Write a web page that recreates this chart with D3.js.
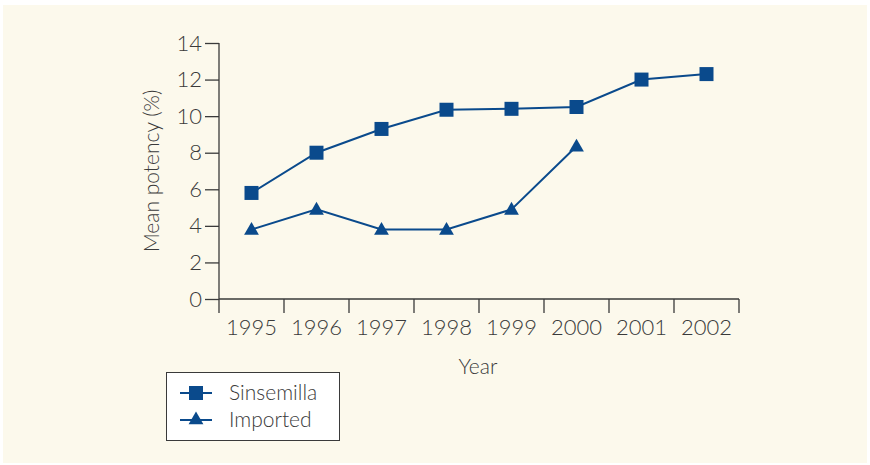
<!DOCTYPE html>
<html>
<head>
<meta charset="utf-8">
<script src="https://cdn.jsdelivr.net/npm/d3@7"></script>
<style>
  html, body { margin: 0; padding: 0; background: #ffffff; }
  svg { display: block; }
  text { font-family: Lato, "Open Sans", sans-serif; font-weight: 300; fill: #3a3a3a; }
</style>
</head>
<body>
<svg id="chart" width="870" height="465"></svg>
<script>
// Mean potency of cannabis samples by year
const years = ["1995", "1996", "1997", "1998", "1999", "2000", "2001", "2002"];
const sinsemilla = [5.8, 8.0, 9.3, 10.35, 10.4, 10.5, 12.0, 12.3];
const imported = [3.8, 4.9, 3.8, 3.8, 4.9, 8.35, null, null];
const yTicks = [0, 2, 4, 6, 8, 10, 12, 14];
const seriesNames = ["Sinsemilla", "Imported"];

const blue = "#0a4a8c";
const axisColor = "#3a3a3a";

const svg = d3.select("#chart");

// panel background
svg.append("rect")
  .attr("x", 3).attr("y", 5)
  .attr("width", 864).attr("height", 458)
  .attr("fill", "#fcf9ec");

const plotLeft = 219, plotRight = 739, plotTop = 43, plotBottom = 299;

const x = d3.scaleBand().domain(years).range([plotLeft, plotRight]);
const y = d3.scaleLinear().domain([0, 14]).range([plotBottom, plotTop]);

// y axis
const yAxis = svg.append("g")
  .attr("transform", `translate(${plotLeft},0)`)
  .call(d3.axisLeft(y).tickValues(yTicks).tickSize(14).tickPadding(3).tickSizeOuter(0));
yAxis.select(".domain").remove();
yAxis.append("line")
  .attr("x1", 0).attr("x2", 0)
  .attr("y1", plotTop).attr("y2", plotBottom + 14)
  .attr("stroke", axisColor).attr("stroke-width", 1.3);
yAxis.selectAll(".tick line").attr("stroke", axisColor).attr("stroke-width", 1.3);
yAxis.selectAll(".tick text")
  .attr("font-size", 22).attr("fill", "#3a3a3a")
  .style("font-family", "Lato, sans-serif").style("font-weight", 300);

// x axis: ticks at the band boundaries, labels under each band
svg.append("line")
  .attr("x1", plotLeft).attr("x2", plotRight)
  .attr("y1", plotBottom).attr("y2", plotBottom)
  .attr("stroke", axisColor).attr("stroke-width", 1.3);
svg.append("g").selectAll("line")
  .data(years)
  .join("line")
  .attr("x1", d => x(d) + x.bandwidth()).attr("x2", d => x(d) + x.bandwidth())
  .attr("y1", plotBottom).attr("y2", plotBottom + 14)
  .attr("stroke", axisColor).attr("stroke-width", 1.3);
svg.append("g").selectAll("text")
  .data(years)
  .join("text")
  .attr("x", d => x(d) + x.bandwidth() / 2)
  .attr("y", plotBottom + 36)
  .attr("text-anchor", "middle")
  .attr("font-size", 22)
  .text(d => d);

// axis titles
svg.append("text")
  .attr("x", 478).attr("y", 374)
  .attr("text-anchor", "middle")
  .attr("font-size", 21)
  .text("Year");
svg.append("text")
  .attr("transform", `translate(159,171) rotate(-90)`)
  .attr("text-anchor", "middle")
  .attr("font-size", 21)
  .text("Mean potency (%)");

const cx = d => x(d) + x.bandwidth() / 2;
const line = d3.line()
  .defined(d => d.v !== null)
  .x(d => cx(d.year))
  .y(d => y(d.v));

const sData = years.map((yr, i) => ({ year: yr, v: sinsemilla[i] }));
const iData = years.map((yr, i) => ({ year: yr, v: imported[i] })).filter(d => d.v !== null);

const triangle = d3.symbol().type(d3.symbolTriangle).size(95);

function drawSeries(data, shape) {
  svg.append("path")
    .datum(data)
    .attr("d", line)
    .attr("fill", "none")
    .attr("stroke", blue)
    .attr("stroke-width", 2);
  const g = svg.append("g");
  if (shape === "square") {
    g.selectAll("rect").data(data).join("rect")
      .attr("x", d => cx(d.year) - 7).attr("y", d => y(d.v) - 7)
      .attr("width", 14).attr("height", 14)
      .attr("fill", blue);
  } else {
    g.selectAll("path").data(data).join("path")
      .attr("transform", d => `translate(${cx(d.year)},${y(d.v) + 1})`)
      .attr("d", triangle)
      .attr("fill", blue);
  }
}
drawSeries(sData, "square");
drawSeries(iData, "triangle");

// legend
const legend = svg.append("g");
legend.append("rect")
  .attr("x", 166.5).attr("y", 372.5)
  .attr("width", 173).attr("height", 68)
  .attr("fill", "#ffffff")
  .attr("stroke", "#3a3a3a").attr("stroke-width", 1);
seriesNames.forEach((name, i) => {
  const ly = 393 + i * 27;
  legend.append("line")
    .attr("x1", 180).attr("x2", 212)
    .attr("y1", ly).attr("y2", ly)
    .attr("stroke", blue).attr("stroke-width", 2);
  if (i === 0) {
    legend.append("rect")
      .attr("x", 189).attr("y", ly - 7).attr("width", 14).attr("height", 14)
      .attr("fill", blue);
  } else {
    legend.append("path")
      .attr("transform", `translate(196,${ly})`)
      .attr("d", triangle)
      .attr("fill", blue);
  }
  legend.append("text")
    .attr("x", 229).attr("y", ly + 7)
    .attr("font-size", 21)
    .text(name);
});
</script>
</body>
</html>
